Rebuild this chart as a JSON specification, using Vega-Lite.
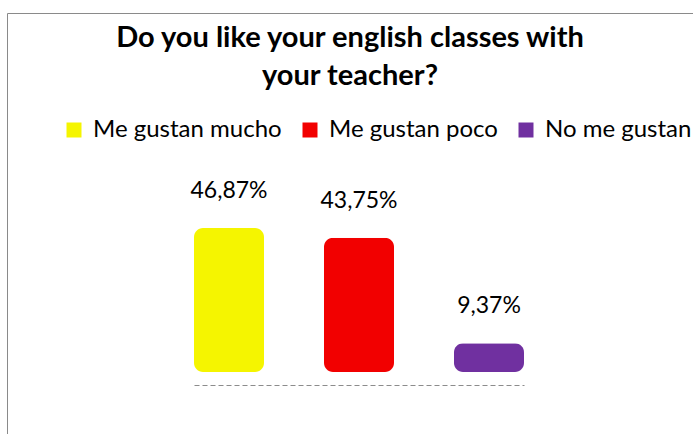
{
  "$schema": "https://vega.github.io/schema/vega-lite/v6.json",
  "width": 686,
  "height": 421,
  "autosize": {"type": "none"},
  "padding": {"left": 7, "top": 13, "right": 0, "bottom": 0},
  "background": "white",
  "config": {"view": {"stroke": "#8a8a8a", "strokeWidth": 1}, "font": "Lato"},
  "title": {
    "text": ["Do you like your english classes with", "your teacher?"],
    "font": "Lato",
    "fontSize": 29,
    "fontWeight": "bold",
    "color": "black",
    "lineHeight": 38,
    "anchor": "middle",
    "frame": "group",
    "offset": -78
  },
  "data": {
    "values": [
      {"answer": "Me gustan mucho", "percent": 46.87, "label": "46,87%"},
      {"answer": "Me gustan poco", "percent": 43.75, "label": "43,75%"},
      {"answer": "No me gustan", "percent": 9.37, "label": "9,37%"}
    ]
  },
  "encoding": {
    "x": {
      "field": "answer",
      "type": "nominal",
      "sort": null,
      "scale": {"range": [187, 517], "paddingInner": 0.4615, "paddingOuter": 0},
      "axis": {
        "labels": false,
        "ticks": false,
        "title": null,
        "offset": -49,
        "domain": true,
        "domainColor": "#8c8c8c",
        "domainWidth": 1.2,
        "domainDash": [5, 3]
      }
    }
  },
  "layer": [
    {
      "mark": {"type": "bar", "cornerRadius": 9},
      "encoding": {
        "y": {"field": "percent", "type": "quantitative", "scale": {"domain": [-20.2, 116.9], "nice": false, "zero": false}, "axis": null},
        "color": {
          "field": "answer",
          "type": "nominal",
          "sort": null,
          "scale": {"domain": ["Me gustan mucho", "Me gustan poco", "No me gustan"], "range": ["#F5F500", "#F20000", "#7030A0"]},
          "legend": {
            "orient": "none",
            "legendX": 55,
            "legendY": 105,
            "direction": "horizontal",
            "title": null,
            "symbolType": "square",
            "symbolSize": 225,
            "symbolStrokeWidth": 0,
            "symbolOpacity": 1,
            "labelFontSize": 24,
            "labelFont": "Lato",
            "labelColor": "black",
            "labelLimit": 400,
            "labelOffset": 7,
            "columnPadding": 16,
            "padding": 0
          }
        }
      }
    },
    {
      "mark": {"type": "text", "dy": -30, "fontSize": 23, "font": "Lato", "color": "black", "baseline": "alphabetic"},
      "encoding": {
        "y": {"field": "percent", "type": "quantitative"},
        "text": {"field": "label"}
      }
    }
  ]
}
